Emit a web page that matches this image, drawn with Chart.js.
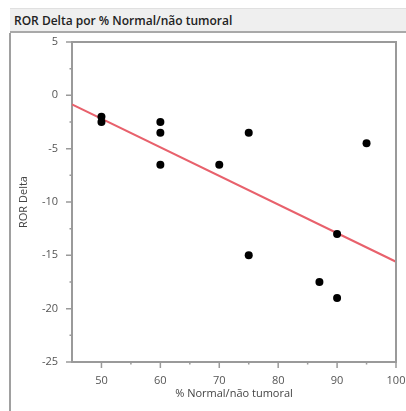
<!DOCTYPE html>
<html lang="pt">
<head>
  <meta charset="UTF-8">
  <title>ROR Delta por % Normal/não tumoral</title>
  <script src="https://cdn.jsdelivr.net/npm/chart.js"></script>
  <style>
    * { box-sizing: border-box; margin: 0; padding: 0; }
    body { width: 406px; height: 411px; background: #fff; position: relative; overflow: hidden; font-family: 'Open Sans', sans-serif; }

    /* Title bar */
    .title-bar {
      position: absolute; left: 10px; top: 8px; width: 396px; height: 25px;
      background: #efefef;
      border-top: 1px solid #e0e0e0;
      border-bottom: 2px solid #a9a9a9;
      font-size: 12px; font-weight: 600; color: #222;
      padding: 3px 0 0 4px;
    }
    .frame-left { position: absolute; left: 9px; top: 33px; width: 2px; height: 378px; background: #a0a0a0; }
    .chart-box { position: absolute; left: 10px; top: 32px; width: 396px; height: 379px; }
  </style>
</head>
<body>

<div class="title-bar">ROR Delta por % Normal/não tumoral</div>
<div class="frame-left"></div>
<div class="chart-box"><canvas id="rorChart"></canvas></div>

<script>
  // data
  const normalPct = [50, 50, 60, 60, 60, 70, 75, 75, 87, 90, 90, 95];
  const rorDelta  = [-2, -2.5, -2.5, -3.5, -6.5, -6.5, -3.5, -15, -17.5, -13, -19, -4.5];

  // fitted trend line (end points)
  const trendX = [45, 100];
  const trendY = [-0.85, -15.6];

  // axis ticks
  const xTicks = [50, 60, 70, 80, 90, 100];
  const xMinor = [55, 65, 75, 85, 95];
  const yTicks = [5, 0, -5, -10, -15, -20, -25];
  const yMinor = [2.5, -2.5, -7.5, -12.5, -17.5, -22.5];

  const axisColor = '#9a9a9a';
  const tickFont = { family: 'Open Sans', size: 11 };

  // box border + major/minor ticks
  const frameTicks = {
    id: 'frameTicks',
    afterDraw(chart) {
      const { ctx, chartArea: a, scales: { x, y } } = chart;
      ctx.save();
      ctx.strokeStyle = axisColor;
      ctx.lineWidth = 2;
      ctx.beginPath();
      ctx.moveTo(a.left, a.top); ctx.lineTo(a.right, a.top); ctx.lineTo(a.right, a.bottom);
      ctx.stroke();
      ctx.lineWidth = 1.5;
      ctx.beginPath();
      xTicks.forEach(v => { const px = x.getPixelForValue(v); ctx.moveTo(px, a.bottom); ctx.lineTo(px, a.bottom + 6); });
      xMinor.forEach(v => { const px = x.getPixelForValue(v); ctx.moveTo(px, a.bottom); ctx.lineTo(px, a.bottom + 2.5); });
      yTicks.forEach(v => { const py = y.getPixelForValue(v); ctx.moveTo(a.left, py); ctx.lineTo(a.left - 6, py); });
      yMinor.forEach(v => { const py = y.getPixelForValue(v); ctx.moveTo(a.left, py); ctx.lineTo(a.left - 2.5, py); });
      ctx.stroke();
      ctx.restore();
    }
  };

  // fixed axis boxes, no label overhang padding
  function fixBox(s, w, h) {
    if (w) s.width = w;
    if (h) s.height = h;
    s.paddingLeft = s.paddingRight = s.paddingTop = s.paddingBottom = 0;
  }

  new Chart(document.getElementById('rorChart'), {
    type: 'scatter',
    data: {
      datasets: [
        {
          label: 'ROR Delta',
          data: normalPct.map((v, i) => ({ x: v, y: rorDelta[i] })),
          backgroundColor: '#000',
          borderWidth: 0,
          pointRadius: 4,
          pointHoverRadius: 4
        },
        {
          type: 'line',
          label: 'Tendência',
          data: trendX.map((v, i) => ({ x: v, y: trendY[i] })),
          borderColor: '#e8616c',
          borderWidth: 2,
          pointRadius: 0,
          fill: false
        }
      ]
    },
    plugins: [frameTicks],
    options: {
      responsive: true,
      maintainAspectRatio: false,
      animation: false,
      layout: { padding: { left: 0, top: 10, right: 10, bottom: 0 } },
      plugins: { legend: { display: false }, tooltip: { enabled: false } },
      scales: {
        x: {
          type: 'linear',
          min: 45, max: 100,
          afterBuildTicks: s => { s.ticks = xTicks.map(v => ({ value: v })); },
          afterFit: s => fixBox(s, 0, 49),
          grid: { drawOnChartArea: false, drawTicks: false },
          border: { color: axisColor, width: 2 },
          ticks: { color: '#555', font: tickFont, padding: 12 },
          title: { display: true, text: '% Normal/não tumoral', color: '#444', font: tickFont, padding: { top: 0, bottom: 11 } }
        },
        y: {
          min: -25, max: 5,
          afterBuildTicks: s => { s.ticks = yTicks.map(v => ({ value: v })); },
          afterFit: s => fixBox(s, 62, 0),
          grid: { drawOnChartArea: false, drawTicks: false },
          border: { color: axisColor, width: 2 },
          ticks: { color: '#555', font: tickFont, padding: 14 },
          title: { display: true, text: 'ROR Delta', color: '#444', font: tickFont, padding: { top: 7, bottom: 0 } }
        }
      }
    }
  });
</script>

</body>
</html>
